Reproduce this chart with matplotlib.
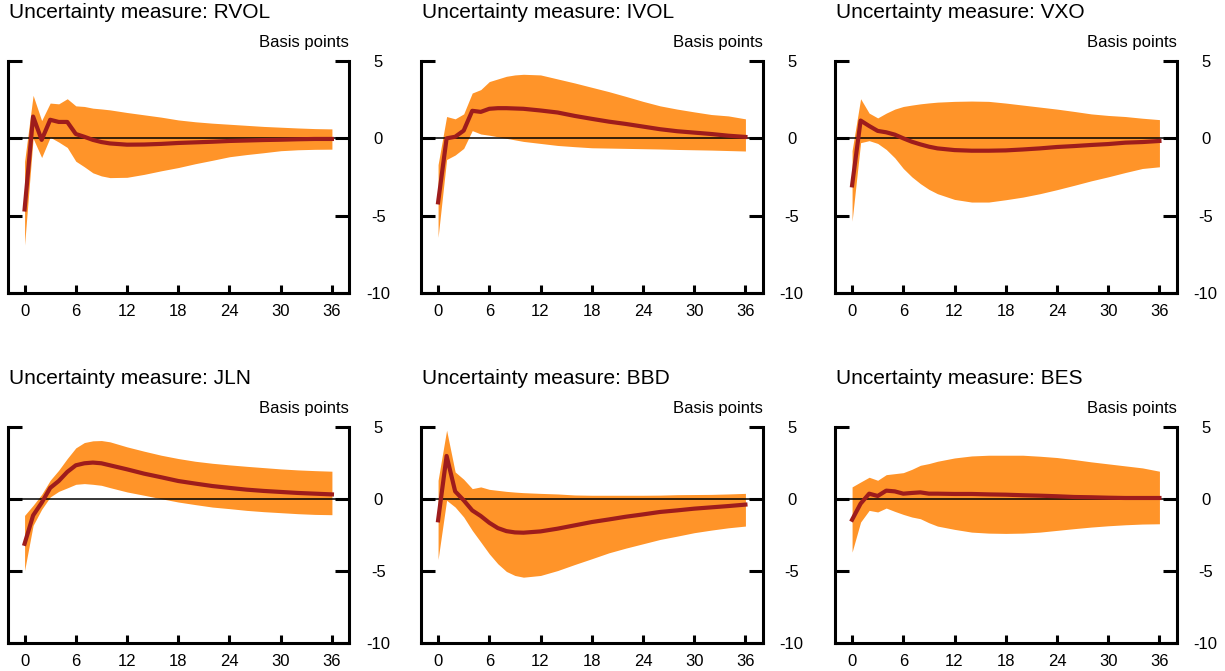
import matplotlib
matplotlib.use("Agg")
import matplotlib.pyplot as plt

plt.rcParams["font.family"] = ["Liberation Sans", "DejaVu Sans"]
plt.rcParams["axes.unicode_minus"] = False

horizon = [0, 1, 2, 3, 4, 5, 6, 7, 8, 9, 10, 12, 14, 16, 18, 20, 22, 24, 26, 28, 30, 32, 34, 36]

measures = ["RVOL", "IVOL", "VXO", "JLN", "BBD", "BES"]

rvol_mid = [-4.6, 1.41, -0.1, 1.2, 1.06, 1.06, 0.28, 0.1, -0.1, -0.24, -0.33, -0.41, -0.40, -0.36,
            -0.30, -0.26, -0.22, -0.17, -0.14, -0.11, -0.09, -0.06, -0.04, -0.04]
rvol_hi = [-1.5, 2.78, 1.15, 2.28, 2.23, 2.56, 2.1, 2.06, 1.95, 1.9, 1.84, 1.67, 1.52, 1.37,
           1.19, 1.07, 0.98, 0.91, 0.84, 0.77, 0.72, 0.67, 0.63, 0.61]
rvol_lo = [-6.9, 0.0, -1.24, 0.07, -0.24, -0.59, -1.48, -1.84, -2.23, -2.43, -2.54, -2.52, -2.33, -2.1,
           -1.89, -1.64, -1.42, -1.19, -1.05, -0.93, -0.8, -0.74, -0.71, -0.7]

ivol_mid = [-4.14, 0.0, 0.1, 0.5, 1.78, 1.71, 1.91, 1.95, 1.95, 1.93, 1.91, 1.8, 1.67, 1.45,
            1.26, 1.08, 0.93, 0.76, 0.59, 0.46, 0.37, 0.28, 0.17, 0.09]
ivol_hi = [-1.7, 1.41, 1.26, 1.58, 2.93, 3.15, 3.67, 3.84, 4.01, 4.1, 4.14, 4.1, 3.84, 3.58,
           3.3, 3.02, 2.71, 2.39, 2.1, 1.89, 1.71, 1.54, 1.45, 1.26]
ivol_lo = [-6.4, -1.37, -1.08, -0.65, 0.5, 0.28, 0.2, 0.1, 0.0, -0.1, -0.2, -0.33, -0.46, -0.54,
           -0.61, -0.63, -0.65, -0.67, -0.69, -0.72, -0.74, -0.76, -0.79, -0.82]

vxo_mid = [-3.04, 1.15, 0.8, 0.48, 0.39, 0.24, 0.0, -0.22, -0.39, -0.54, -0.65, -0.76, -0.8, -0.8,
           -0.78, -0.72, -0.65, -0.56, -0.5, -0.43, -0.37, -0.28, -0.24, -0.17]
vxo_hi = [-0.8, 2.56, 1.63, 1.32, 1.63, 1.89, 2.06, 2.15, 2.23, 2.29, 2.34, 2.39, 2.41, 2.39,
          2.28, 2.15, 2.02, 1.89, 1.74, 1.58, 1.48, 1.41, 1.3, 1.21]
vxo_lo = [-5.36, -0.28, -0.15, -0.33, -0.72, -1.26, -1.95, -2.49, -2.93, -3.3, -3.58, -3.95, -4.12, -4.12,
          -3.97, -3.8, -3.58, -3.32, -3.04, -2.75, -2.49, -2.21, -1.95, -1.84]

jln_mid = [-3.11, -1.14, -0.26, 0.77, 1.25, 1.88, 2.34, 2.48, 2.53, 2.48, 2.34, 2.06, 1.76, 1.51,
           1.25, 1.07, 0.9, 0.77, 0.65, 0.56, 0.49, 0.42, 0.37, 0.32]
jln_hi = [-1.14, -0.44, 0.32, 1.3, 2.0, 2.81, 3.55, 3.92, 4.04, 4.06, 3.97, 3.62, 3.32, 3.04,
          2.81, 2.62, 2.48, 2.37, 2.27, 2.18, 2.09, 2.02, 1.97, 1.93]
jln_lo = [-4.97, -1.83, -0.72, 0.14, 0.53, 0.77, 1.02, 1.07, 1.02, 0.95, 0.79, 0.49, 0.26, 0.02,
          -0.21, -0.39, -0.56, -0.67, -0.79, -0.88, -0.95, -1.02, -1.07, -1.09]

bbd_mid = [-1.48, 2.99, 0.53, -0.09, -0.79, -1.18, -1.65, -2.02, -2.23, -2.32, -2.34, -2.25, -2.06, -1.83,
           -1.6, -1.42, -1.23, -1.07, -0.9, -0.79, -0.67, -0.58, -0.49, -0.39]
bbd_hi = [1.3, 4.78, 1.88, 1.37, 0.72, 0.84, 0.67, 0.6, 0.53, 0.48, 0.44, 0.39, 0.35, 0.28,
          0.26, 0.26, 0.26, 0.26, 0.27, 0.3, 0.31, 0.32, 0.35, 0.39]
bbd_lo = [-4.2, -0.09, -0.56, -1.25, -2.18, -2.99, -3.81, -4.5, -5.03, -5.31, -5.43, -5.31, -4.97, -4.55,
          -4.15, -3.74, -3.41, -3.11, -2.81, -2.58, -2.34, -2.16, -2.0, -1.88]

bes_mid = [-1.44, -0.32, 0.37, 0.21, 0.58, 0.53, 0.37, 0.42, 0.46, 0.37, 0.37, 0.35, 0.35, 0.32,
           0.3, 0.26, 0.23, 0.19, 0.14, 0.12, 0.09, 0.07, 0.07, 0.07]
bes_hi = [0.84, 1.18, 1.51, 1.3, 1.69, 1.76, 1.83, 2.06, 2.34, 2.46, 2.62, 2.85, 2.99, 3.04,
          3.04, 3.04, 2.97, 2.88, 2.74, 2.58, 2.44, 2.3, 2.16, 1.93]
bes_lo = [-3.69, -1.6, -0.79, -0.9, -0.63, -0.86, -1.07, -1.25, -1.37, -1.65, -1.88, -2.11, -2.3, -2.37,
          -2.39, -2.37, -2.3, -2.18, -2.06, -1.95, -1.86, -1.79, -1.74, -1.72]

mids = [rvol_mid, ivol_mid, vxo_mid, jln_mid, bbd_mid, bes_mid]
highs = [rvol_hi, ivol_hi, vxo_hi, jln_hi, bbd_hi, bes_hi]
lows = [rvol_lo, ivol_lo, vxo_lo, jln_lo, bbd_lo, bes_lo]

x_ticks = [0, 6, 12, 18, 24, 30, 36]
y_ticks = [5, 0, -5, -10]

BAND = "#FF9429"
LINE = "#9E1C1C"

W, H = 1225, 671
fig = plt.figure(figsize=(W / 100, H / 100), dpi=100)

col_left = [7.5, 421, 835]
col_width = 341.5
row_top = [61, 427]
row_height = [232, 216]

for i, name in enumerate(measures):
    r, c = divmod(i, 3)
    rect = [col_left[c] / W, 1 - (row_top[r] + row_height[r]) / H,
            col_width / W, row_height[r] / H]
    ax = fig.add_axes(rect)
    ax.fill_between(horizon, lows[i], highs[i], color=BAND, lw=0)
    ax.axhline(0, color="black", lw=1.1)
    ax.plot(horizon, mids[i], color=LINE, lw=3)

    ax.set_xlim(-2, 38)
    ax.set_ylim(-10, 5)
    ax.set_xticks(x_ticks)
    ax.set_yticks(y_ticks)
    ax.spines["top"].set_visible(False)
    for s in ["left", "right", "bottom"]:
        ax.spines[s].set_linewidth(2.2)
    ax.tick_params(axis="y", which="both", direction="in", left=True, right=True,
                   labelleft=False, labelright=True, length=10, width=2.2,
                   pad=21, labelsize=12)
    ax.tick_params(axis="x", direction="in", length=5.5, width=2.2, pad=8, labelsize=12)
    for lab in ax.get_yticklabels():
        lab.set_horizontalalignment("center")

    ax.text(0.004, 1 + 48 / row_height[r], f"Uncertainty measure: {name}",
            transform=ax.transAxes, ha="left", va="center", fontsize=15)
    ax.text(1.0, 1 + 19 / row_height[r], "Basis points",
            transform=ax.transAxes, ha="right", va="center", fontsize=12)

fig.savefig("out.png", dpi=100)
